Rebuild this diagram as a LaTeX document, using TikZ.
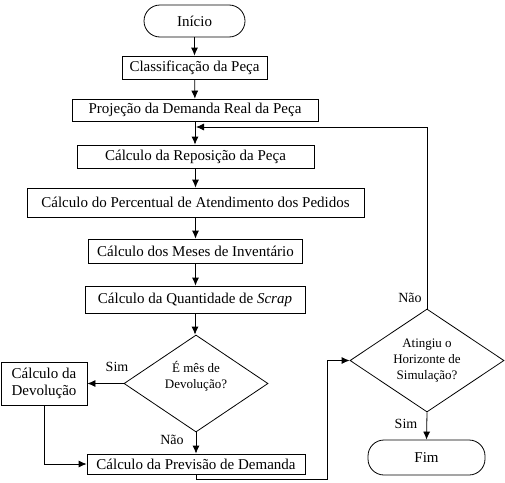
\documentclass[tikz,border=0pt]{standalone}
\usepackage{fontspec}
\setmainfont{Liberation Serif}
\usetikzlibrary{shapes.geometric,arrows.meta}
\begin{document}
\begin{tikzpicture}[x=1pt,y=-1pt,
  every node/.style={inner sep=0pt},
  box/.style={draw,line width=0.8pt,rectangle,font=\fontsize{15}{17}\selectfont,align=center},
  term/.style={draw,line width=0.8pt,rectangle,rounded corners=16pt,font=\fontsize{15}{17}\selectfont},
  dec/.style={draw,line width=0.8pt,diamond,aspect=1.5,font=\fontsize{13}{16}\selectfont,align=center},
  dectext/.style={font=\fontsize{13}{16}\selectfont,align=center},
  lab/.style={font=\fontsize{14}{16}\selectfont},
  arr/.style={line width=0.8pt,-{Latex[length=8pt,width=7pt]}},
  ln/.style={line width=0.8pt}]
\useasboundingbox (0,0) rectangle (505,482);
\node[term,minimum width=101pt,minimum height=32pt] (start) at (194.5,21) {Início};
\node[box,minimum width=145pt,minimum height=23pt] (cls) at (194.5,67.5) {Classificação da Peça};
\node[box,minimum width=246pt,minimum height=22pt] (proj) at (195,110) {Projeção da Demanda Real da Peça};
\node[box,minimum width=237pt,minimum height=23pt] (repo) at (195.5,156.5) {Cálculo da Reposição da Peça};
\node[box,minimum width=337pt,minimum height=29pt] (perc) at (195.5,202.5) {Cálculo do Percentual de Atendimento dos Pedidos};
\node[box,minimum width=214pt,minimum height=24pt] (meses) at (195.5,251) {Cálculo dos Meses de Inventário};
\node[box,minimum width=220pt,minimum height=27pt] (scrap) at (195,299.5) {Cálculo da Quantidade de \textit{Scrap}};
\node[dec,minimum width=144pt,minimum height=97pt] (d1) at (196,383.5) {};
\node[dectext] (d1t) at (196,376) {É mês de\\Devolução?};
\node[box,minimum width=86pt,minimum height=43pt] (dev) at (44,383.5) {Cálculo da\\Devolução};
\node[box,minimum width=218pt,minimum height=20pt] (prev) at (196,464) {Cálculo da Previsão de Demanda};
\node[dec,minimum width=154pt,minimum height=103pt] (d2) at (427,360.5) {Atingiu o\\Horizonte de\\Simulação?};
\node[term,minimum width=117pt,minimum height=35pt] (fim) at (426.5,457.5) {Fim};

\draw[arr] (start) -- (cls);
\draw[arr] (cls) -- (proj);
\draw[arr] (proj.south) -- (proj.south|-repo.north);
\draw[arr] (repo.south) -- (repo.south|-perc.north);
\draw[arr] (perc.south) -- (perc.south|-meses.north);
\draw[arr] (meses.south) -- (meses.south|-scrap.north);
\draw[arr] (scrap.south) -- (scrap.south|-d1.north);
\draw[arr] (d1.west) -- (dev.east);
\draw[arr] (d1.south) -- (d1.south|-prev.north);
\draw[arr] (dev.south) |- (prev.west);
\coordinate (c1) at (196,479);
\coordinate (c2) at (327,479);
\draw[arr] (prev.south) -- (c1) -- (c2) |- (d2.west);
\coordinate (j) at (196,127);
\draw[arr] (d2.north) |- (j);
\draw[arr] (d2.south) -- (fim.north);

\node[lab] (s1) at (117,367) {Sim};
\node[lab] (n1) at (172,440) {Não};
\node[lab] (n2) at (410,298) {Não};
\node[lab] (s2) at (406,424) {Sim};
\end{tikzpicture}
\end{document}
